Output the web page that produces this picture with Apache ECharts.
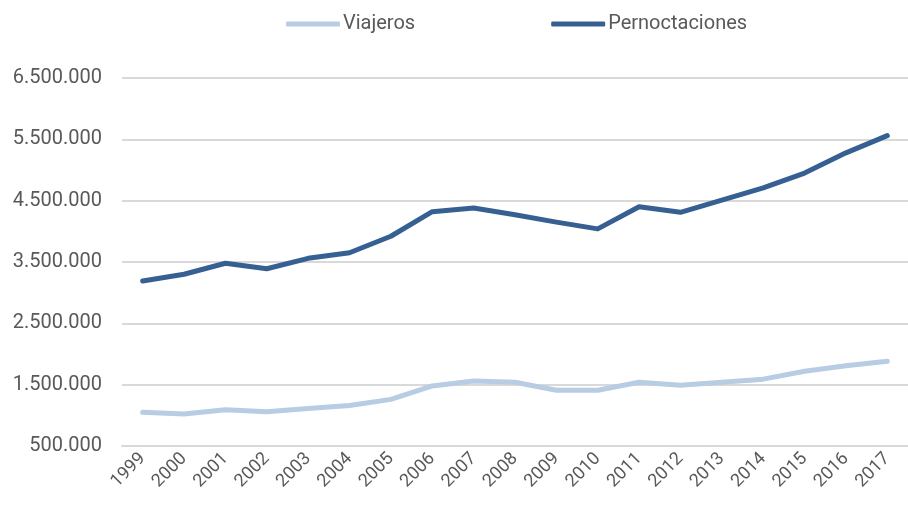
<!DOCTYPE html>
<html>
<head>
<meta charset="utf-8">
<script src="https://cdn.jsdelivr.net/npm/echarts@6/dist/echarts.min.js"></script>
<style>
  html, body { margin: 0; padding: 0; background: #fff; }
  #chart { width: 908px; height: 507px; }
</style>
</head>
<body>
<div id="chart"></div>
<script>
// Años (eje X)
const years = ['1999', '2000', '2001', '2002', '2003', '2004', '2005', '2006', '2007', '2008',
    '2009', '2010', '2011', '2012', '2013', '2014', '2015', '2016', '2017'];

// Viajeros
const viajeros = [1050000, 1020000, 1090000, 1060000, 1110000, 1160000, 1260000, 1480000, 1560000, 1540000,
    1410000, 1410000, 1540000, 1490000, 1540000, 1590000, 1720000, 1810000, 1880000];

// Pernoctaciones
const pernoctaciones = [3190000, 3300000, 3480000, 3390000, 3560000, 3650000, 3920000, 4320000, 4380000, 4270000,
    4150000, 4040000, 4400000, 4310000, 4510000, 4710000, 4950000, 5280000, 5560000];

const chart = echarts.init(document.getElementById('chart'));

const fmt = (v) => String(v).replace(/\B(?=(\d{3})+(?!\d))/g, '.');

chart.setOption({
    animation: false,
    color: ['#b8cce4', '#376092'],
    legend: {
        top: 9,
        left: 281,
        itemWidth: 54,
        itemHeight: 5,
        itemGap: 136,
        icon: 'roundRect',
        textStyle: {
            fontFamily: 'Roboto, sans-serif',
            fontSize: 20,
            color: '#595959',
            padding: [0, 0, 0, -2]
        },
        data: ['Viajeros', 'Pernoctaciones']
    },
    grid: {
        left: 122,
        right: -9,
        top: 78,
        bottom: 61
    },
    xAxis: {
        type: 'category',
        data: years,
        boundaryGap: true,
        axisLine: { show: true, lineStyle: { color: '#d9d9d9', width: 2 } },
        axisTick: { show: false },
        axisLabel: {
            rotate: 45,
            margin: 10,
            fontFamily: 'Roboto, sans-serif',
            fontSize: 18,
            color: '#595959'
        }
    },
    yAxis: {
        type: 'value',
        min: 500000,
        max: 6500000,
        interval: 1000000,
        axisLine: { show: false },
        axisTick: { show: false },
        splitLine: { lineStyle: { color: '#d9d9d9', width: 2 } },
        axisLabel: {
            margin: 20,
            fontFamily: 'Roboto, "Liberation Sans", sans-serif',
            fontSize: 20,
            color: '#595959',
            formatter: fmt
        }
    },
    series: [
        {
            name: 'Viajeros',
            type: 'line',
            data: viajeros,
            symbol: 'none',
            lineStyle: { width: 5, cap: 'round', join: 'round' }
        },
        {
            name: 'Pernoctaciones',
            type: 'line',
            data: pernoctaciones,
            symbol: 'none',
            lineStyle: { width: 5, cap: 'round', join: 'round' }
        }
    ]
});
</script>
</body>
</html>
